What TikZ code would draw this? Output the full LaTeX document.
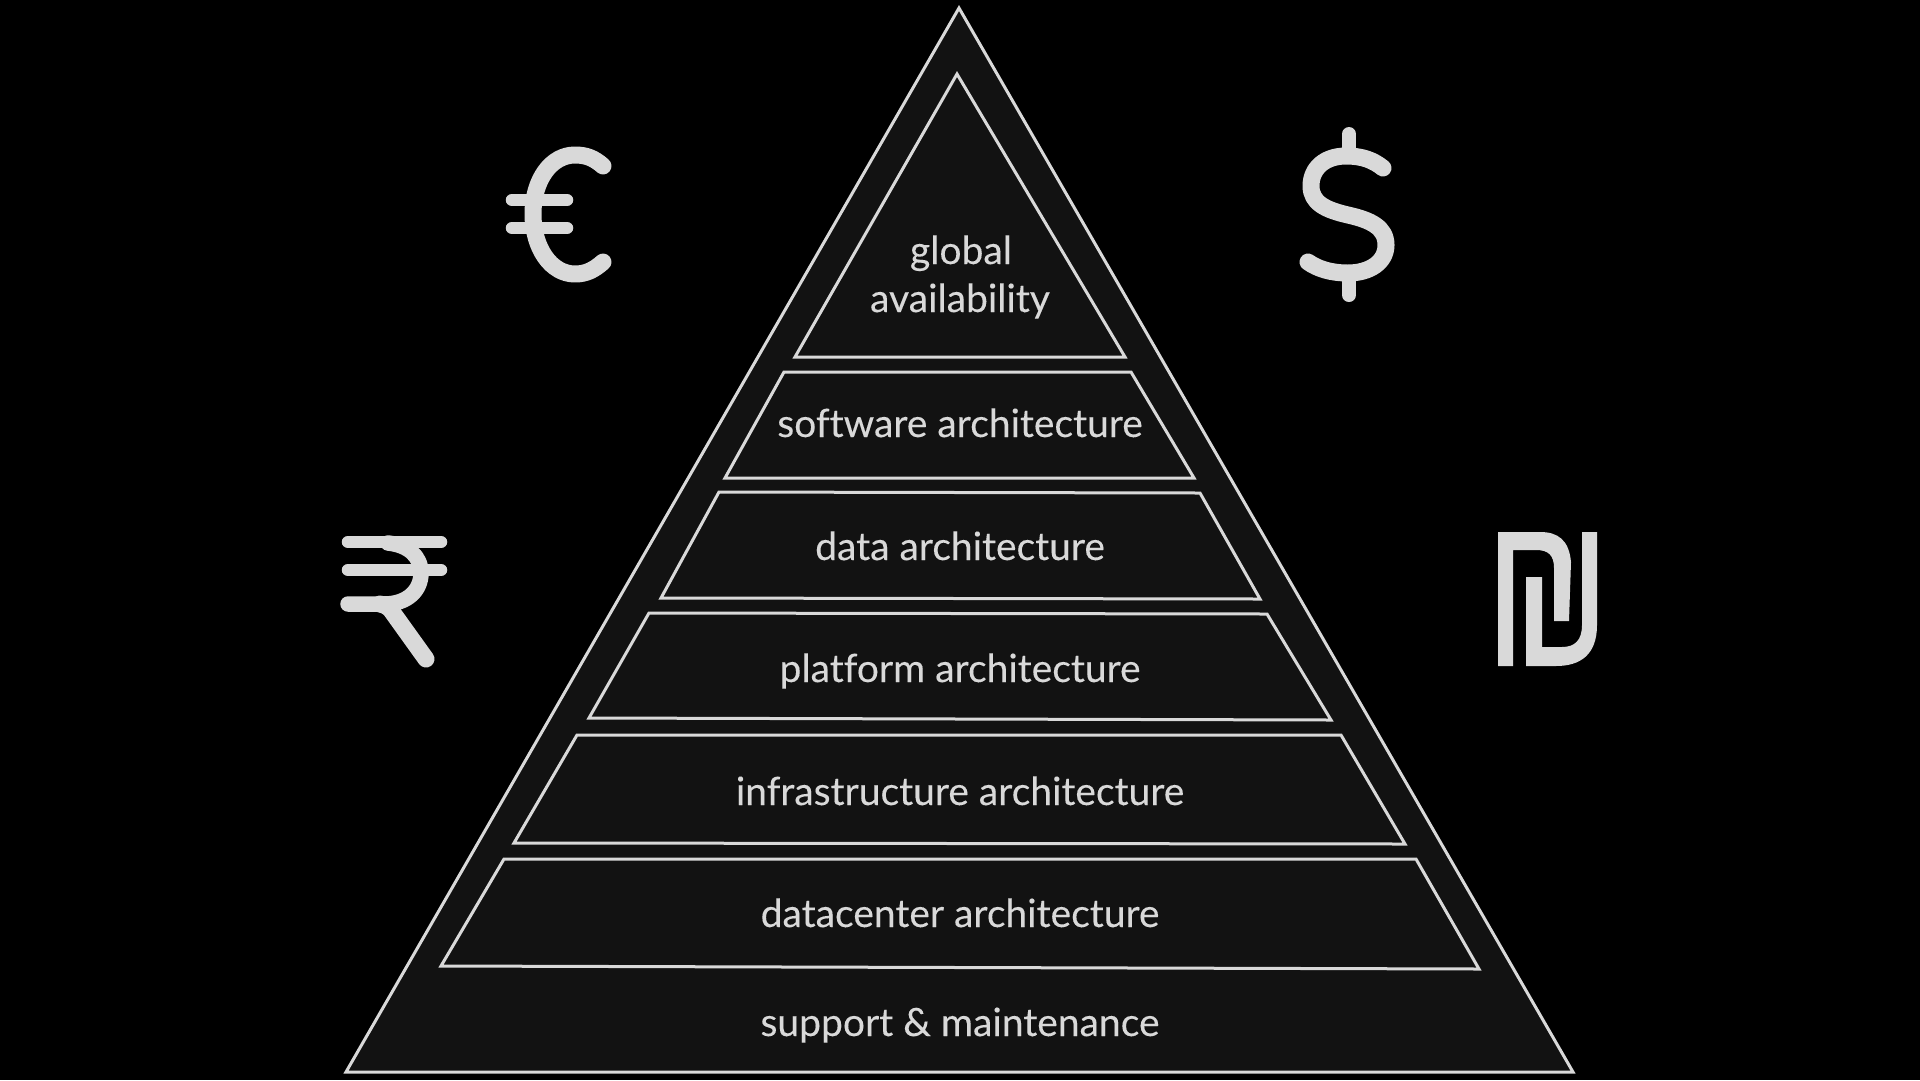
\documentclass[tikz,border=0pt]{standalone}
\usepackage{fontspec}
\setmainfont{Lato}[Ligatures=NoCommon,FakeBold=0.12]
\definecolor{ink}{HTML}{D9D9D9}
\definecolor{panel}{HTML}{121212}
\tikzset{
  tier/.style={draw=ink,line width=3pt,fill=panel,line join=miter,miter limit=10},
  lab/.style={text=ink,font=\fontsize{39}{47}\selectfont,anchor=base,inner sep=0pt},
  glyph/.style={draw=ink,line cap=round,line join=round,fill=none},
  solidglyph/.style={fill=ink,draw=none}
}
\begin{document}
\begin{tikzpicture}[x=1pt,y=-1pt]
\fill[black] (0,0) rectangle (1920,1080);
\useasboundingbox (0,0) rectangle (1920,1080);
% pyramid
\draw[tier] (959,8) -- (1573,1072) -- (346,1072) -- cycle;
\draw[tier] (957,74) -- (1125,357) -- (795,357) -- cycle;
\draw[tier] (784,372) -- (1131,372) -- (1194,478) -- (725,478) -- cycle;
\draw[tier] (719,492) -- (1200,493) -- (1260,599) -- (661,598) -- cycle;
\draw[tier] (649,613) -- (1267,614) -- (1331,720) -- (589,718) -- cycle;
\draw[tier] (577,735) -- (1341,735) -- (1405,844) -- (514,843) -- cycle;
\draw[tier] (504,859) -- (1416,859) -- (1479,969) -- (441,966) -- cycle;
% labels
\node[lab] (l1a) at (961,264) {global};
\node[lab] (l1b) at (960,312) {availability};
\node[lab] (l2) at (960,437) {software architecture};
\node[lab] (l3) at (960,560) {data architecture};
\node[lab] (l4) at (960,682) {platform architecture};
\node[lab] (l5) at (960,805) {infrastructure architecture};
\node[lab] (l6) at (960,927) {datacenter architecture};
\node[lab] (l7) at (960,1036) {support \& maintenance};
% euro
\draw[glyph,line width=17pt] (603,166) .. controls (594,158) and (586,155) .. (575,155)
  .. controls (551,155) and (533,180) .. (533,214)
  .. controls (533,248) and (551,274) .. (575,274)
  .. controls (586,274) and (594,270) .. (603,262);
\draw[glyph,line width=12.5pt] (512,200) -- (567,200);
\draw[glyph,line width=12.5pt] (512,228) -- (567,228);
% dollar
\draw[glyph,line width=17pt] (1383,168) .. controls (1373,160) and (1362,156) .. (1346,156)
  .. controls (1325,156) and (1311,168) .. (1311,186)
  .. controls (1311,203) and (1326,210) .. (1348,215)
  .. controls (1370,220) and (1386,227) .. (1386,245)
  .. controls (1386,262) and (1370,273) .. (1348,273)
  .. controls (1331,273) and (1318,269) .. (1308,262);
\draw[glyph,line width=14pt] (1349,134) -- (1349,156);
\draw[glyph,line width=14pt] (1349,273) -- (1349,295);
% rupee
\draw[glyph,line width=12.5pt] (348,542) -- (441,542);
\draw[glyph,line width=12.5pt] (348,570) -- (441,570);
\draw[glyph,line width=15.5pt] (348,604) -- (384,604)
  .. controls (408,604) and (421,590) .. (421,573)
  .. controls (421,556) and (408,545) .. (388,543);
\draw[glyph,line width=17pt] (380,604) .. controls (386,605) and (390,608) .. (393,613) -- (426,659);
% shekel
\fill[solidglyph] (1498,532) -- (1540,532)
  .. controls (1558,532) and (1569,540) .. (1571,562)
  -- (1569,621) -- (1554,621) -- (1554,568)
  .. controls (1554,555) and (1548,550) .. (1536,550)
  -- (1513,550) -- (1513,666) -- (1498,666) -- cycle;
\fill[solidglyph] (1526,577) -- (1542,577) -- (1542,647) -- (1562,647)
  .. controls (1575,647) and (1582,640) .. (1582,625)
  -- (1582,532) -- (1597,532) -- (1597,625)
  .. controls (1597,655) and (1580,666) .. (1556,666)
  -- (1526,666) -- cycle;
\end{tikzpicture}
\end{document}
